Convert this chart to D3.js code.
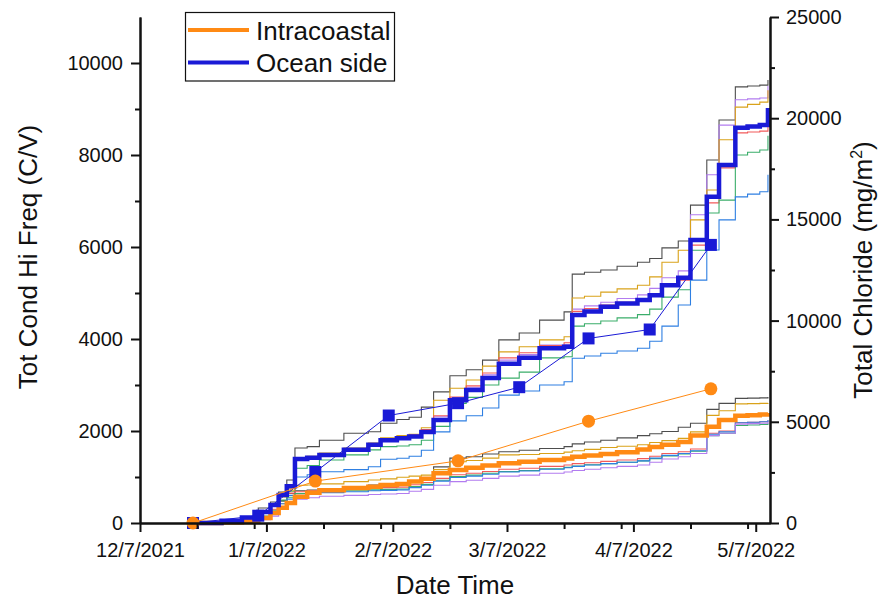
<!DOCTYPE html>
<html lang="en">
<head>
<meta charset="UTF-8">
<title>Tot Cond Hi Freq and Total Chloride</title>
<script src="https://cdnjs.cloudflare.com/ajax/libs/d3/7.8.5/d3.min.js"></script>
<style>
  body { margin: 0; background: #fff; }
  svg text { font-family: "Liberation Sans", Arial, sans-serif; fill: #111; }
</style>
</head>
<body>
<div id="chart"></div>
<script>
// shared step dates for the sensor traces
const dates = ["2021-12-20", "2021-12-27", "2022-01-01", "2022-01-05", "2022-01-08", "2022-01-10",
  "2022-01-12", "2022-01-14", "2022-01-17", "2022-01-20", "2022-01-26", "2022-02-01", "2022-02-04",
  "2022-02-08", "2022-02-11", "2022-02-14", "2022-02-17", "2022-02-21", "2022-02-25", "2022-03-01",
  "2022-03-05", "2022-03-10", "2022-03-15", "2022-03-21", "2022-03-23", "2022-03-26", "2022-03-30",
  "2022-04-03", "2022-04-08", "2022-04-11", "2022-04-14", "2022-04-18", "2022-04-21", "2022-04-25",
  "2022-04-28", "2022-05-02", "2022-05-05", "2022-05-08", "2022-05-10"];

// ocean side sensors (left axis)
const oceanMean   = [0, 50, 120, 240, 390, 610, 800, 1390, 1420, 1480, 1590, 1700, 1800, 1840, 1880, 1980, 2240, 2670, 2890, 3150, 3460, 3590, 3800, 3830, 4520, 4600, 4700, 4770, 4850, 4950, 5170, 5330, 6150, 7090, 7780, 8590, 8620, 8650, 9020];
const oceanGray   = [0, 30, 65, 326, 456, 674, 935, 1630, 1660, 1800, 1950, 1985, 2170, 2250, 2300, 2520, 2850, 3200, 3330, 3540, 3980, 4130, 4410, 4590, 5410, 5450, 5500, 5580, 5670, 5750, 5980, 6130, 6910, 7890, 8760, 9480, 9500, 9520, 9630];
const oceanPurple = [0, 30, 65, 250, 400, 620, 810, 1400, 1430, 1490, 1600, 1710, 1820, 1860, 1900, 2020, 2310, 2720, 2950, 3220, 3540, 3660, 3870, 3880, 4650, 4720, 4800, 4880, 4960, 5100, 5330, 5480, 6700, 7570, 8650, 9200, 9220, 9240, 9500];
const oceanGold   = [0, 30, 65, 217, 370, 565, 760, 1420, 1450, 1520, 1630, 1740, 1850, 1900, 1930, 2070, 2670, 2930, 3110, 3410, 3720, 3830, 3980, 4050, 4890, 4930, 5020, 5090, 5170, 5350, 5670, 5930, 6590, 7240, 8330, 9040, 9100, 9150, 9410];
const oceanRed    = [0, 35, 70, 250, 400, 620, 810, 1410, 1440, 1500, 1610, 1720, 1830, 1870, 1910, 2030, 2330, 2740, 2980, 3260, 3590, 3700, 3860, 3920, 4600, 4660, 4740, 4800, 4870, 4970, 5150, 5280, 6040, 6960, 7720, 8480, 8500, 8520, 8780];
const oceanGreen  = [0, 20, 40, 150, 280, 480, 690, 1190, 1250, 1370, 1480, 1590, 1660, 1675, 1700, 1800, 2100, 2600, 2730, 3000, 3150, 3280, 3590, 3615, 4280, 4330, 4390, 4460, 4530, 4650, 4910, 5070, 5930, 6740, 7020, 8000, 8060, 8110, 8420];
const oceanBlue   = [0, 10, 20, 110, 200, 350, 600, 1000, 1050, 1115, 1160, 1224, 1385, 1406, 1450, 1580, 1980, 2220, 2330, 2500, 2780, 2870, 3000, 3070, 3580, 3630, 3690, 3740, 3800, 3950, 4280, 4740, 5280, 5935, 6590, 7090, 7150, 7200, 7570];

// intracoastal sensors (left axis)
const intraMean   = [0, 10, 20, 110, 220, 330, 435, 570, 660, 710, 760, 790, 826, 850, 900, 960, 1080, 1150, 1200, 1250, 1300, 1330, 1370, 1400, 1440, 1470, 1500, 1540, 1600, 1650, 1700, 1760, 1900, 2090, 2240, 2330, 2345, 2360, 2390];
const intraGray   = [0, 15, 30, 100, 250, 480, 640, 700, 717, 740, 790, 826, 840, 863, 910, 950, 1220, 1410, 1440, 1500, 1550, 1580, 1620, 1660, 1720, 1760, 1800, 1850, 1900, 1940, 1990, 2080, 2170, 2470, 2600, 2710, 2715, 2720, 2740];
const intraGold   = [0, 15, 30, 80, 200, 420, 700, 820, 826, 850, 900, 935, 960, 993, 1020, 1040, 1160, 1330, 1360, 1410, 1480, 1490, 1510, 1540, 1570, 1600, 1640, 1670, 1700, 1750, 1790, 1840, 1980, 2340, 2440, 2590, 2595, 2600, 2610];
const intraRed    = [0, 15, 30, 100, 300, 620, 650, 680, 700, 720, 740, 760, 770, 780, 830, 880, 970, 1050, 1080, 1120, 1170, 1190, 1230, 1260, 1290, 1310, 1340, 1370, 1400, 1450, 1510, 1550, 1610, 1950, 2000, 2180, 2190, 2200, 2230];
const intraGreen  = [0, 10, 20, 90, 250, 500, 560, 640, 660, 680, 700, 720, 730, 740, 790, 840, 930, 1010, 1040, 1080, 1120, 1140, 1180, 1210, 1240, 1265, 1290, 1320, 1350, 1400, 1460, 1500, 1560, 1900, 1950, 2120, 2130, 2140, 2170];
const intraBlue   = [0, 10, 20, 80, 200, 420, 520, 600, 630, 660, 680, 700, 710, 720, 770, 820, 910, 990, 1020, 1060, 1110, 1130, 1170, 1200, 1230, 1260, 1290, 1320, 1350, 1410, 1470, 1510, 1570, 1930, 1980, 2180, 2190, 2200, 2240];
const intraPurple = [0, 10, 20, 70, 150, 330, 430, 520, 550, 580, 600, 620, 630, 640, 690, 730, 820, 900, 930, 970, 1020, 1040, 1080, 1110, 1140, 1170, 1200, 1230, 1260, 1320, 1390, 1440, 1510, 1900, 1950, 2150, 2160, 2170, 2200];

// total chloride samples (right axis)
const oceanClDates = ["2021-12-20", "2022-01-05", "2022-01-19", "2022-02-06", "2022-02-23", "2022-03-10", "2022-03-27", "2022-04-11", "2022-04-26"];
const oceanCl      = [0, 360, 2520, 5310, 5920, 6710, 9120, 9560, 13740];
const intraClDates = ["2021-12-20", "2022-01-19", "2022-02-23", "2022-03-27", "2022-04-26"];
const intraCl      = [0, 2070, 3070, 5030, 6630];

// axis ticks
const xMajor = ["2021-12-07", "2022-01-07", "2022-02-07", "2022-03-07", "2022-04-07", "2022-05-07"];
const xMinor = ["2021-12-21", "2022-01-04", "2022-01-21", "2022-02-04", "2022-02-21", "2022-03-21", "2022-04-04", "2022-04-21", "2022-05-05"];
const yLeftMajor = [0, 2000, 4000, 6000, 8000, 10000];
const yLeftMinor = [1000, 3000, 5000, 7000, 9000];
const yRightMajor = [0, 5000, 10000, 15000, 20000, 25000];
const yRightMinor = [2500, 7500, 12500, 17500, 22500];

const parse = d3.timeParse("%Y-%m-%d");
const W = 879, H = 600;
const mLeft = 140, mRight = 770, mTop = 17, mBottom = 523;

const svg = d3.select("#chart").append("svg")
  .attr("width", W).attr("height", H);

const x = d3.scaleTime()
  .domain([parse("2021-12-07"), d3.timeParse("%Y-%m-%d %H")("2022-05-10 12")])
  .range([mLeft, mRight]);
const yL = d3.scaleLinear().domain([0, 11000]).range([mBottom, mTop]);
const yR = d3.scaleLinear().domain([0, 25000]).range([mBottom, mTop]);

const stepLine = d3.line()
  .x((d, i) => x(parse(dates[i])))
  .y(d => yL(d))
  .curve(d3.curveStepAfter);

const thin = [
  [oceanGray, "#4d4d4d"], [oceanPurple, "#b27cf0"], [oceanGold, "#d9a21a"], [oceanRed, "#f25a5a"],
  [oceanGreen, "#3aad6a"], [oceanBlue, "#2e7fe2"],
  [intraGray, "#4d4d4d"], [intraGold, "#d9a21a"], [intraRed, "#f25a5a"], [intraGreen, "#3aad6a"],
  [intraBlue, "#2e7fe2"], [intraPurple, "#b27cf0"]
];

const g = svg.append("g");
thin.forEach(([vals, col]) => {
  g.append("path").attr("d", stepLine(vals))
    .attr("fill", "none").attr("stroke", col).attr("stroke-width", 1.1);
});

const orange = "#ff8a14", blue = "#1a1ad6";
g.append("path").attr("d", stepLine(intraMean))
  .attr("fill", "none").attr("stroke", orange).attr("stroke-width", 4.5);
g.append("path").attr("d", stepLine(oceanMean))
  .attr("fill", "none").attr("stroke", blue).attr("stroke-width", 4.5);

// chloride: ocean squares then intracoastal circles
const clLine = d3.line().x(d => x(parse(d[0]))).y(d => yR(d[1]));
const oceanPts = oceanClDates.map((d, i) => [d, oceanCl[i]]);
const intraPts = intraClDates.map((d, i) => [d, intraCl[i]]);

g.append("path").attr("d", clLine(oceanPts))
  .attr("fill", "none").attr("stroke", blue).attr("stroke-width", 1);
g.selectAll(".sq").data(oceanPts).enter().append("rect")
  .attr("x", d => x(parse(d[0])) - 6).attr("y", d => yR(d[1]) - 6)
  .attr("width", 12).attr("height", 12).attr("fill", blue);

g.append("path").attr("d", clLine(intraPts))
  .attr("fill", "none").attr("stroke", orange).attr("stroke-width", 1);
g.selectAll(".ci").data(intraPts).enter().append("circle")
  .attr("cx", d => x(parse(d[0]))).attr("cy", d => yR(d[1]))
  .attr("r", 6.5).attr("fill", orange);

// axes
function styleAxis(sel) {
  sel.selectAll("path.domain").attr("stroke", "#111").attr("stroke-width", 2);
  sel.selectAll(".tick line").attr("stroke", "#111").attr("stroke-width", 2);
  sel.selectAll("text").attr("font-size", 20).attr("fill", "#111")
    .attr("font-family", "Liberation Sans, Arial, sans-serif");
}
const numFmt = d3.format("d");

svg.append("g").attr("transform", `translate(${mLeft},0)`)
  .call(d3.axisLeft(yL).tickValues(yLeftMinor).tickSize(5).tickFormat("").tickSizeOuter(0))
  .call(styleAxis);
svg.append("g").attr("transform", `translate(${mLeft},0)`)
  .call(d3.axisLeft(yL).tickValues(yLeftMajor).tickSize(9).tickPadding(8).tickFormat(numFmt).tickSizeOuter(0))
  .call(styleAxis);

svg.append("g").attr("transform", `translate(${mRight},0)`)
  .call(d3.axisRight(yR).tickValues(yRightMinor).tickSize(5).tickFormat("").tickSizeOuter(0))
  .call(styleAxis);
svg.append("g").attr("transform", `translate(${mRight},0)`)
  .call(d3.axisRight(yR).tickValues(yRightMajor).tickSize(9).tickPadding(7).tickFormat(numFmt).tickSizeOuter(0))
  .call(styleAxis);

svg.append("g").attr("transform", `translate(0,${mBottom})`)
  .call(d3.axisBottom(x).tickValues(xMinor.map(parse)).tickSize(6).tickFormat("").tickSizeOuter(0))
  .call(styleAxis);
svg.append("g").attr("transform", `translate(0,${mBottom})`)
  .call(d3.axisBottom(x).tickValues(xMajor.map(parse)).tickSize(9).tickPadding(11)
    .tickFormat(d3.timeFormat("%-m/%-d/%Y")).tickSizeOuter(0))
  .call(styleAxis);

// axis titles
svg.append("text").attr("x", 455).attr("y", 594).attr("text-anchor", "middle")
  .attr("font-size", 26).text("Date Time");
svg.append("text").attr("transform", "translate(37,257) rotate(-90)")
  .attr("text-anchor", "middle").attr("font-size", 26).text("Tot Cond Hi Freq (C/V)");
const rt = svg.append("text").attr("transform", "translate(872,270) rotate(-90)")
  .attr("text-anchor", "middle").attr("font-size", 26);
rt.append("tspan").text("Total Chloride (mg/m");
rt.append("tspan").attr("font-size", 16).attr("dy", -10).text("2");
rt.append("tspan").attr("dy", 10).text(")");

// legend
const lg = svg.append("g");
lg.append("rect").attr("x", 185.5).attr("y", 12.5).attr("width", 209).attr("height", 68.5)
  .attr("fill", "#fff").attr("stroke", "#111").attr("stroke-width", 1.2);
[["Intracoastal", orange, 30, 40], ["Ocean side", blue, 62.5, 72]].forEach(([name, col, ly, ty]) => {
  lg.append("line").attr("x1", 188).attr("x2", 249).attr("y1", ly).attr("y2", ly)
    .attr("stroke", col).attr("stroke-width", 4);
  lg.append("text").attr("x", 256).attr("y", ty).attr("font-size", 26).text(name);
});
</script>
</body>
</html>
